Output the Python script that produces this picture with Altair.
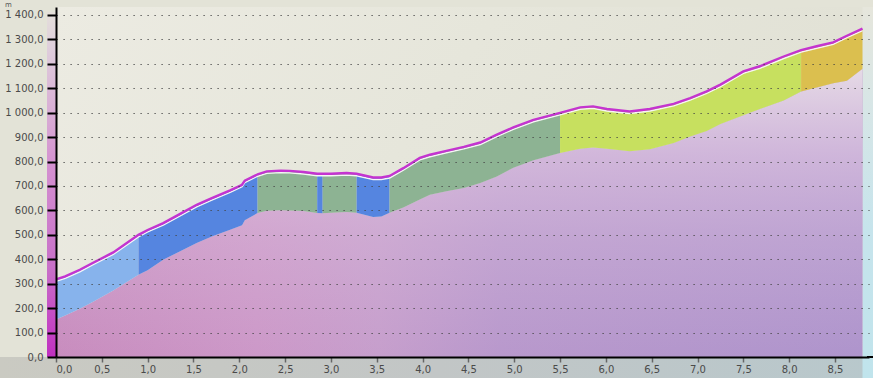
import altair as alt
import pandas as pd

# ---- data ----
km = [0.0, 0.1, 0.26, 0.4, 0.625, 0.9, 1.0, 1.17, 1.35, 1.535, 1.7, 1.9, 2.03, 2.06, 2.19, 2.2,
      2.3, 2.45, 2.55, 2.7, 2.85, 2.91, 3.0, 3.17, 3.28, 3.46, 3.55, 3.64, 3.79, 3.97, 4.08,
      4.26, 4.45, 4.63, 4.81, 4.99, 5.21, 5.5, 5.72, 5.86, 6.01, 6.26, 6.48, 6.74, 6.92, 7.1,
      7.25, 7.5, 7.68, 7.94, 8.13, 8.3, 8.48, 8.63, 8.8]
top = [318, 330, 357, 385, 428, 500, 520, 548, 585, 623, 650, 682, 705, 722, 746, 748,
       760, 763, 762, 757, 750, 750, 750, 753, 750, 735, 735, 741, 773, 815, 828,
       844, 860, 878, 910, 940, 971, 999, 1022, 1026, 1015, 1005, 1015, 1036, 1060, 1087,
       1115, 1169, 1190, 1230, 1256, 1272, 1288, 1315, 1344]
bottom = [153, 170, 197, 225, 272, 337, 355, 398, 432, 467, 493, 521, 539, 560, 587, 589,
          599, 601, 600, 598, 589, 588, 590, 593, 590, 573, 575, 590, 612, 645, 664,
          678, 692, 712, 739, 775, 805, 835, 852, 858, 852, 842, 850, 876, 903, 925,
          954, 990, 1015, 1050, 1087, 1103, 1120, 1131, 1180]

seg_bounds = [0.0, 0.9, 2.2, 2.85, 2.91, 3.28, 3.64, 5.5, 8.13, 8.8]
seg_class = ["c1", "c2", "c3", "c2", "c3", "c2", "c3", "c4", "c5"]
class_names = ["c1", "c2", "c3", "c4", "c5"]
class_colors = ["#87b3ec", "#5585e0", "#8db393", "#c7e05f", "#dbbf4f"]

x_ticks = [0.0, 0.5, 1.0, 1.5, 2.0, 2.5, 3.0, 3.5, 4.0, 4.5, 5.0, 5.5, 6.0, 6.5, 7.0, 7.5, 8.0, 8.5]
y_ticks = [0, 100, 200, 300, 400, 500, 600, 700, 800, 900, 1000, 1100, 1200, 1300, 1400]

W, H = 813, 350
XMAX, YMAX = 8.871, 1432.6

prof = pd.DataFrame({"km": km, "top": top, "bottom": bottom})
rows = []
for i, cls in enumerate(seg_class):
    lo, hi = seg_bounds[i], seg_bounds[i + 1]
    for k, t, b in zip(km, top, bottom):
        if lo <= k <= hi:
            rows.append({"seg": i, "cls": cls, "km": k, "top": t, "bottom": b})
segs = pd.DataFrame(rows)
one = pd.DataFrame({"k": [0]})

xaxis = alt.Axis(values=x_ticks, labelExpr="replace(format(datum.value, '.1f'), '.', ',')",
                 grid=False, title=None, domainColor="black", domainWidth=2,
                 tickColor="#666666", tickWidth=1.5, tickSize=5, labelPadding=2,
                 labelFont="DejaVu Sans", labelFontSize=10, labelColor="#4a4a4a", zindex=1)
yaxis = alt.Axis(values=y_ticks,
                 labelExpr="replace(replace(format(datum.value, ',.1f'), ',', ' '), '.', ',')",
                 grid=True, gridDash=[1.2, 5.8], gridColor="#444444", gridWidth=1.2,
                 title=None, domainColor="black", domainWidth=2, tickColor="black",
                 tickWidth=2, tickSize=9, labelPadding=4, labelFont="DejaVu Sans",
                 labelFontSize=10, labelColor="#4a4a4a", zindex=1)
xs = alt.Scale(domain=[0, XMAX], nice=False, zero=False)
ys = alt.Scale(domain=[0, YMAX], nice=False)

def lin(stops, x1=0, y1=0, x2=0, y2=1):
    return {"gradient": "linear", "x1": x1, "y1": y1, "x2": x2, "y2": y2,
            "stops": [{"offset": o, "color": c} for o, c in stops]}

bg = alt.Chart(one).mark_rect(
    color=lin([(0, "#ecebe2"), (0.5, "#e6e6db"), (1, "#e1e1d5")], x2=1, y2=0.3)
).encode(x=alt.value(0), x2=alt.value(W), y=alt.value(0), y2=alt.value(H))

bottom_strip = alt.Chart(one).mark_rect(
    color=lin([(0, "#cacac2"), (0.5, "#c2c6c6"), (1, "#b8c8cc")], x2=1, y2=0)
).encode(x=alt.value(-56), x2=alt.value(W + 4), y=alt.value(H), y2=alt.value(H + 21))

right_strip = alt.Chart(one).mark_rect(
    color=lin([(0, "#e6e6dc"), (0.25, "#d8e6e6"), (0.6, "#c6e4ec"), (1, "#c0e4ec")])
).encode(x=alt.datum(8.8), x2=alt.value(W + 4), y=alt.value(0), y2=alt.value(H + 21))

y_strip = alt.Chart(one).mark_rect(
    color=lin([(0, "#e4e0da"), (0.1, "#dfcfdc"), (0.3, "#d8acd4"), (0.45, "#d490d0"),
               (0.74, "#c870c8"), (0.9, "#c448c4"), (1, "#c030c0")])
).encode(x=alt.value(-9), x2=alt.value(0), y=alt.value(5), y2=alt.value(H))

ground = alt.Chart(prof).mark_area(
    color=lin([(0, "#c88cbe"), (0.25, "#cc98c8"), (0.4, "#c69ecc"), (0.55, "#b898cc"),
               (1, "#ae94cc")], x2=1, y2=0)
).encode(x=alt.X("km:Q", scale=xs, axis=xaxis), y=alt.Y("bottom:Q", scale=ys, axis=yaxis))

ground_light = alt.Chart(prof).mark_area(
    color=lin([(0, "rgba(234,224,232,0.92)"), (0.3, "rgba(228,204,228,0.6)"),
               (0.6, "rgba(222,196,224,0.3)"), (1, "rgba(222,196,224,0)")])
).encode(x=alt.X("km:Q", scale=xs, axis=xaxis), y=alt.Y("bottom:Q", scale=ys, axis=yaxis))

bands = alt.Chart(segs).mark_area(interpolate="linear").encode(
    x=alt.X("km:Q", scale=xs, axis=xaxis),
    y=alt.Y("top:Q", scale=ys, axis=yaxis, stack=False),
    y2="bottom:Q",
    color=alt.Color("cls:N", scale=alt.Scale(domain=class_names, range=class_colors), legend=None),
    detail="seg:N",
)

hl = alt.Chart(prof).mark_line(color="#f6f6f6", strokeWidth=1.4, yOffset=2).encode(
    x=alt.X("km:Q", scale=xs, axis=xaxis), y=alt.Y("top:Q", scale=ys, axis=yaxis))
line = alt.Chart(prof).mark_line(color="#c434d0", strokeWidth=2.4).encode(
    x=alt.X("km:Q", scale=xs, axis=xaxis), y=alt.Y("top:Q", scale=ys, axis=yaxis))

xext = alt.Chart(one).mark_rule(color="black", strokeWidth=2).encode(
    x=alt.value(W - 2), x2=alt.value(W + 4), y=alt.value(H))

unit = alt.Chart(one).mark_text(text="m", fontSize=7, color="#555555", align="left",
                                 baseline="middle", font="DejaVu Sans").encode(
    x=alt.value(-51), y=alt.value(-2))

chart = alt.layer(bg, bottom_strip, right_strip, y_strip, ground, ground_light, bands, hl, line,
                  xext, unit).properties(
    width=W, height=H,
    autosize=alt.AutoSizeParams(type="none"),
    padding={"left": 56, "top": 7, "right": 4, "bottom": 21},
).configure(background="#e3e3d7").configure_view(stroke=None)

chart.save("out.html", embed_options={"renderer": "svg", "actions": False})
